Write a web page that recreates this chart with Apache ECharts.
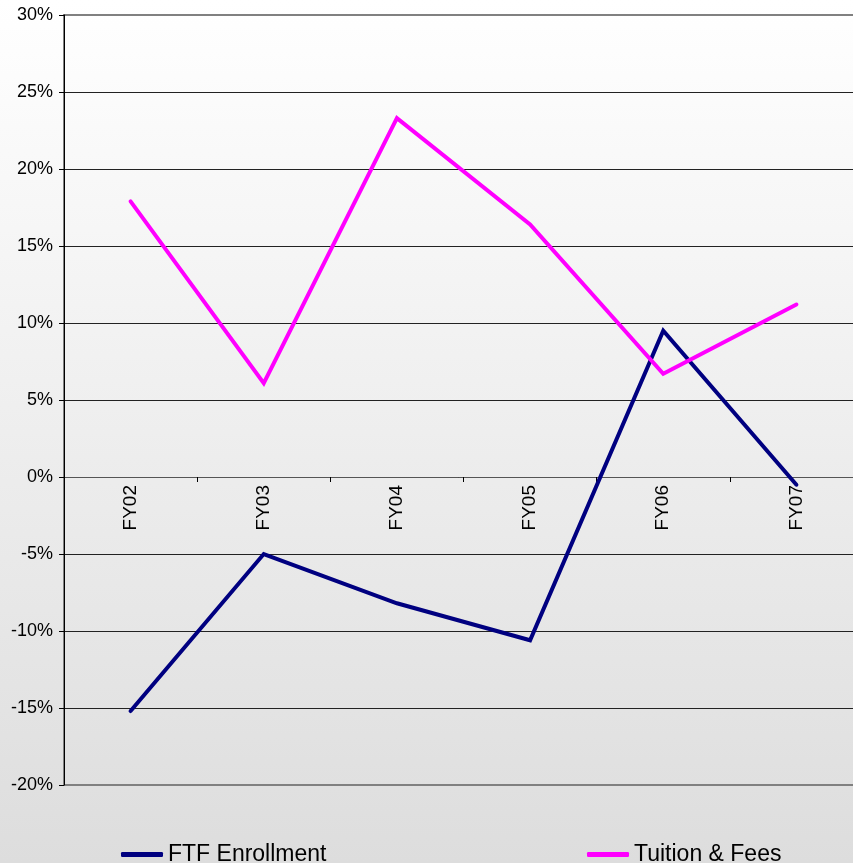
<!DOCTYPE html>
<html>
<head>
<meta charset="utf-8">
<script src="https://cdn.jsdelivr.net/npm/echarts@6/dist/echarts.min.js"></script>
<style>
  html, body { margin: 0; padding: 0; }
  #chart { width: 853px; height: 863px; background: linear-gradient(#ffffff, #dddddd); }
</style>
</head>
<body>
<div id="chart"></div>
<script>
// Fiscal years on the category axis
const years = ['FY02', 'FY03', 'FY04', 'FY05', 'FY06', 'FY07'];
// Year-over-year change, in percent
const ftfEnrollment = [-15.2, -5.0, -8.2, -10.6, 9.5, -0.5];
const tuitionFees = [17.9, 6.1, 23.3, 16.4, 6.7, 11.2];
// Value axis range and step (percent)
const yMin = -20, yMax = 30, yStep = 5;

const font = 'Liberation Sans, Arial, sans-serif';
const gridTop = 15, gridHeight = 770;
// Place the category axis (line, ticks, labels) on the 0% level
const zeroOffset = -gridHeight * (0 - yMin) / (yMax - yMin);

const chart = echarts.init(document.getElementById('chart'), null, { renderer: 'canvas' });

chart.setOption({
  backgroundColor: 'transparent',
  animation: false,
  grid: {
    left: 64, top: gridTop, width: 799, height: gridHeight,
    outerBoundsMode: 'none',
    containLabel: false,
    show: true, borderColor: '#808080', borderWidth: 2, backgroundColor: 'transparent'
  },
  legend: [
    {
      data: ['FTF Enrollment'], left: 116, top: 838,
      icon: 'roundRect', itemWidth: 42, itemHeight: 5, itemGap: 6,
      textStyle: { fontFamily: font, fontSize: 23, color: '#000' }
    },
    {
      data: ['Tuition & Fees'], left: 582, top: 838,
      icon: 'roundRect', itemWidth: 42, itemHeight: 5, itemGap: 6,
      textStyle: { fontFamily: font, fontSize: 23, color: '#000' }
    }
  ],
  xAxis: {
    type: 'category',
    data: years,
    boundaryGap: true,
    position: 'bottom',
    offset: zeroOffset,
    axisLine: { onZero: false, lineStyle: { color: '#555', width: 1 } },
    axisTick: { show: true, length: 5, lineStyle: { color: '#000' } },
    axisLabel: { rotate: 90, margin: 8, fontFamily: font, fontSize: 19, color: '#000' },
    splitLine: { show: false }
  },
  yAxis: {
    type: 'value',
    min: yMin, max: yMax, interval: yStep,
    axisLine: { show: true, lineStyle: { color: '#000', width: 1 } },
    axisTick: { show: true, length: 5, lineStyle: { color: '#000' } },
    axisLabel: {
      margin: 11, fontFamily: font, fontSize: 18, color: '#000',
      formatter: v => v + '%'
    },
    splitLine: { show: true, showMinLine: false, showMaxLine: false, lineStyle: { color: '#222', width: 1 } }
  },
  series: [
    {
      name: 'FTF Enrollment', type: 'line', data: ftfEnrollment,
      showSymbol: false, symbol: 'none',
      itemStyle: { color: '#000080' },
      lineStyle: { color: '#000080', width: 4, cap: 'round', join: 'miter' }
    },
    {
      name: 'Tuition & Fees', type: 'line', data: tuitionFees,
      showSymbol: false, symbol: 'none',
      itemStyle: { color: '#ff00ff' },
      lineStyle: { color: '#ff00ff', width: 4, cap: 'round', join: 'miter' }
    }
  ]
});
</script>
</body>
</html>
